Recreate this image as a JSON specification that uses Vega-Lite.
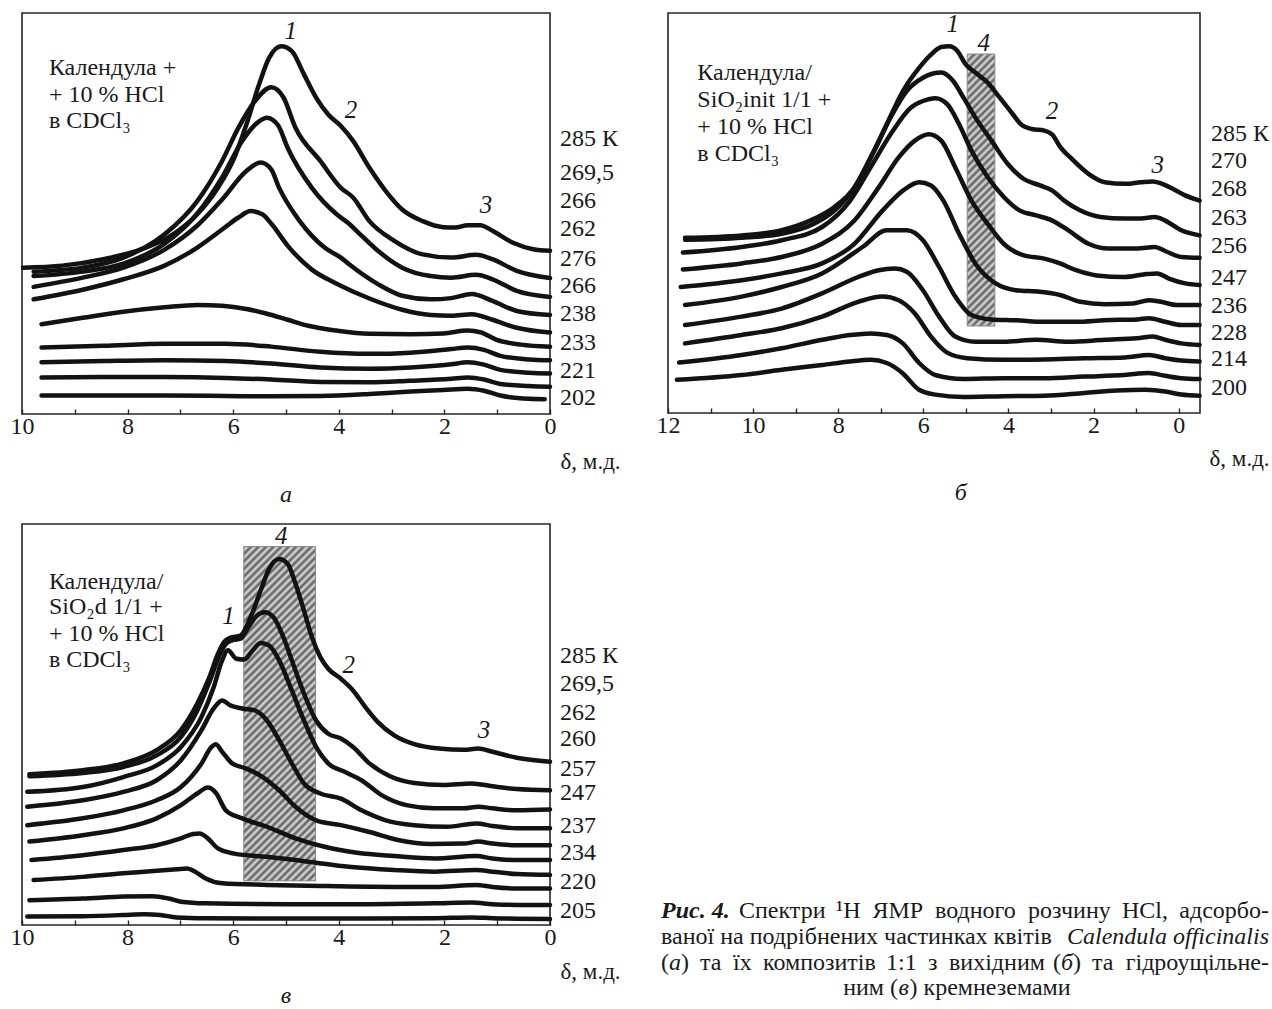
{
"$schema": "https://vega.github.io/schema/vega-lite/v6.json",
"background": "white",
"padding": {"left": 9, "top": 11, "right": 0, "bottom": 0},
"columns": 2,
"spacing": {"row": 110, "column": 118},
"bounds": "flush",
"config": {
  "view": {"stroke": "#262626", "strokeWidth": 1.6},
  "axisX": {"domain": false, "grid": false, "tickSize": -5, "tickColor": "#262626", "tickWidth": 1.4, "labelFont": "Liberation Serif", "labelFontSize": 24, "labelColor": "#1a1a1a", "labelPadding": 5, "labelFlush": false, "labelOverlap": false, "titleFont": "Liberation Serif", "titleFontSize": 23, "titleFontWeight": "normal", "titleColor": "#1a1a1a", "titleAlign": "left", "titleBaseline": "middle"},
  "text": {"font": "Liberation Serif", "color": "#1a1a1a"},
  "line": {"interpolate": "monotone", "strokeWidth": 4.5, "color": "#121212", "strokeCap": "round", "strokeJoin": "round"}
},
"datasets": {
"a": [
{"c":1,"x":9.98,"y":36.5},{"c":1,"x":9.24,"y":37.0},{"c":1,"x":8.46,"y":38.6},{"c":1,"x":7.69,"y":41.3},{"c":1,"x":7.14,"y":44.8},{"c":1,"x":6.68,"y":49.8},{"c":1,"x":6.29,"y":56.4},{"c":1,"x":5.98,"y":63.9},{"c":1,"x":5.75,"y":72.2},{"c":1,"x":5.51,"y":82.2},{"c":1,"x":5.32,"y":88.8},{"c":1,"x":5.09,"y":91.7},{"c":1,"x":4.89,"y":90.5},{"c":1,"x":4.66,"y":84.7},{"c":1,"x":4.43,"y":78.9},{"c":1,"x":4.2,"y":74.7},{"c":1,"x":3.96,"y":71.8},{"c":1,"x":3.73,"y":68.1},{"c":1,"x":3.42,"y":61.4},{"c":1,"x":3.11,"y":55.6},{"c":1,"x":2.8,"y":51.0},{"c":1,"x":2.41,"y":48.1},{"c":1,"x":2.02,"y":46.6},{"c":1,"x":1.79,"y":46.5},{"c":1,"x":1.56,"y":47.1},{"c":1,"x":1.32,"y":47.1},{"c":1,"x":1.09,"y":45.7},{"c":1,"x":0.7,"y":42.7},{"c":1,"x":0.32,"y":41.1},{"c":1,"x":0,"y":40.7},
{"c":2,"x":9.78,"y":35.5},{"c":2,"x":8.85,"y":36.5},{"c":2,"x":8.08,"y":39.0},{"c":2,"x":7.3,"y":44.8},{"c":2,"x":6.68,"y":53.1},{"c":2,"x":6.21,"y":63.1},{"c":2,"x":5.9,"y":71.4},{"c":2,"x":5.59,"y":78.0},{"c":2,"x":5.28,"y":81.5},{"c":2,"x":5.05,"y":79.0},{"c":2,"x":4.82,"y":71.4},{"c":2,"x":4.35,"y":63.1},{"c":2,"x":3.96,"y":56.4},{"c":2,"x":3.73,"y":54.0},{"c":2,"x":3.42,"y":48.1},{"c":2,"x":2.95,"y":43.2},{"c":2,"x":2.41,"y":39.8},{"c":2,"x":1.87,"y":39.0},{"c":2,"x":1.4,"y":39.7},{"c":2,"x":1.09,"y":38.6},{"c":2,"x":0.63,"y":35.7},{"c":2,"x":0,"y":33.9},
{"c":3,"x":9.78,"y":34.4},{"c":3,"x":8.85,"y":35.5},{"c":3,"x":8.08,"y":37.5},{"c":3,"x":7.3,"y":42.5},{"c":3,"x":6.68,"y":50.0},{"c":3,"x":6.21,"y":59.0},{"c":3,"x":5.83,"y":68.1},{"c":3,"x":5.51,"y":73.0},{"c":3,"x":5.36,"y":73.9},{"c":3,"x":5.15,"y":72.0},{"c":3,"x":4.97,"y":66.4},{"c":3,"x":4.51,"y":56.4},{"c":3,"x":4.04,"y":49.8},{"c":3,"x":3.81,"y":47.5},{"c":3,"x":3.65,"y":45.5},{"c":3,"x":3.26,"y":40.7},{"c":3,"x":2.8,"y":36.5},{"c":3,"x":2.26,"y":34.4},{"c":3,"x":1.87,"y":34.0},{"c":3,"x":1.4,"y":34.7},{"c":3,"x":1.09,"y":33.6},{"c":3,"x":0.63,"y":30.7},{"c":3,"x":0,"y":29.2},
{"c":4,"x":9.78,"y":31.7},{"c":4,"x":8.85,"y":34.0},{"c":4,"x":8.08,"y":36.5},{"c":4,"x":7.3,"y":41.0},{"c":4,"x":6.68,"y":47.0},{"c":4,"x":6.21,"y":53.5},{"c":4,"x":5.75,"y":60.6},{"c":4,"x":5.48,"y":62.7},{"c":4,"x":5.28,"y":61.0},{"c":4,"x":5.13,"y":56.4},{"c":4,"x":4.74,"y":48.1},{"c":4,"x":4.27,"y":41.5},{"c":4,"x":3.96,"y":39.0},{"c":4,"x":3.81,"y":37.4},{"c":4,"x":3.26,"y":32.4},{"c":4,"x":2.8,"y":29.5},{"c":4,"x":2.26,"y":28.6},{"c":4,"x":1.87,"y":28.9},{"c":4,"x":1.48,"y":29.9},{"c":4,"x":1.09,"y":28.2},{"c":4,"x":0.63,"y":25.7},{"c":4,"x":0,"y":24.7},
{"c":5,"x":9.78,"y":28.6},{"c":5,"x":8.85,"y":31.0},{"c":5,"x":8.08,"y":33.6},{"c":5,"x":7.3,"y":37.0},{"c":5,"x":6.68,"y":41.5},{"c":5,"x":6.21,"y":46.0},{"c":5,"x":5.9,"y":49.0},{"c":5,"x":5.67,"y":50.6},{"c":5,"x":5.45,"y":49.8},{"c":5,"x":5.28,"y":47.5},{"c":5,"x":4.97,"y":42.0},{"c":5,"x":4.51,"y":36.0},{"c":5,"x":4.04,"y":32.5},{"c":5,"x":3.42,"y":28.8},{"c":5,"x":2.8,"y":26.0},{"c":5,"x":2.26,"y":24.7},{"c":5,"x":1.87,"y":24.5},{"c":5,"x":1.48,"y":24.9},{"c":5,"x":1.09,"y":23.5},{"c":5,"x":0.63,"y":21.5},{"c":5,"x":0,"y":20.3},
{"c":6,"x":9.63,"y":22.4},{"c":6,"x":8.85,"y":24.0},{"c":6,"x":8.08,"y":25.5},{"c":6,"x":7.3,"y":26.6},{"c":6,"x":6.68,"y":27.2},{"c":6,"x":6.21,"y":27.0},{"c":6,"x":5.75,"y":26.2},{"c":6,"x":5.36,"y":25.0},{"c":6,"x":4.97,"y":23.5},{"c":6,"x":4.58,"y":22.0},{"c":6,"x":4.04,"y":20.8},{"c":6,"x":3.42,"y":20.0},{"c":6,"x":2.64,"y":19.9},{"c":6,"x":2.02,"y":20.1},{"c":6,"x":1.56,"y":20.8},{"c":6,"x":1.32,"y":20.4},{"c":6,"x":1.01,"y":18.5},{"c":6,"x":0.55,"y":17.3},{"c":6,"x":0,"y":16.8},
{"c":7,"x":9.63,"y":16.6},{"c":7,"x":8.46,"y":17.0},{"c":7,"x":7.3,"y":17.5},{"c":7,"x":6.14,"y":17.5},{"c":7,"x":5.28,"y":16.8},{"c":7,"x":4.35,"y":15.5},{"c":7,"x":3.42,"y":15.0},{"c":7,"x":2.64,"y":15.3},{"c":7,"x":1.87,"y":16.2},{"c":7,"x":1.56,"y":16.6},{"c":7,"x":1.25,"y":16.0},{"c":7,"x":0.94,"y":14.5},{"c":7,"x":0.4,"y":13.6},{"c":7,"x":0,"y":13.4},
{"c":8,"x":9.63,"y":12.9},{"c":8,"x":8.46,"y":13.2},{"c":8,"x":7.3,"y":13.4},{"c":8,"x":6.14,"y":13.2},{"c":8,"x":5.28,"y":12.6},{"c":8,"x":4.35,"y":11.6},{"c":8,"x":3.42,"y":11.3},{"c":8,"x":2.64,"y":11.6},{"c":8,"x":1.87,"y":12.4},{"c":8,"x":1.56,"y":12.9},{"c":8,"x":1.25,"y":12.3},{"c":8,"x":0.94,"y":11.0},{"c":8,"x":0.4,"y":10.3},{"c":8,"x":0,"y":10.1},
{"c":9,"x":9.63,"y":9.1},{"c":9,"x":8.46,"y":9.2},{"c":9,"x":7.3,"y":9.2},{"c":9,"x":6.14,"y":9.0},{"c":9,"x":5.28,"y":8.6},{"c":9,"x":4.35,"y":8.0},{"c":9,"x":3.42,"y":7.9},{"c":9,"x":2.64,"y":8.3},{"c":9,"x":1.87,"y":8.8},{"c":9,"x":1.56,"y":9.1},{"c":9,"x":1.25,"y":8.6},{"c":9,"x":0.94,"y":7.5},{"c":9,"x":0.4,"y":7.0},{"c":9,"x":0,"y":6.8},
{"c":10,"x":9.63,"y":4.6},{"c":10,"x":8.46,"y":4.6},{"c":10,"x":7.3,"y":4.6},{"c":10,"x":6.14,"y":4.5},{"c":10,"x":5.28,"y":4.4},{"c":10,"x":4.35,"y":4.5},{"c":10,"x":3.42,"y":5.0},{"c":10,"x":2.64,"y":5.6},{"c":10,"x":2.02,"y":6.0},{"c":10,"x":1.56,"y":6.3},{"c":10,"x":1.25,"y":5.8},{"c":10,"x":0.94,"y":4.6},{"c":10,"x":0.4,"y":3.8},{"c":10,"x":0.1,"y":3.7}
],
"b": [
{"c":1,"x":11.6,"y":43.8},{"c":1,"x":10.27,"y":44.4},{"c":1,"x":9.33,"y":45.7},{"c":1,"x":8.66,"y":48.1},{"c":1,"x":8.09,"y":51.5},{"c":1,"x":7.62,"y":56.4},{"c":1,"x":7.24,"y":63.9},{"c":1,"x":6.86,"y":72.2},{"c":1,"x":6.48,"y":80.5},{"c":1,"x":6.1,"y":86.3},{"c":1,"x":5.82,"y":89.6},{"c":1,"x":5.58,"y":91.5},{"c":1,"x":5.39,"y":91.7},{"c":1,"x":5.2,"y":90.5},{"c":1,"x":5.01,"y":87.2},{"c":1,"x":4.78,"y":85.1},{"c":1,"x":4.49,"y":82.6},{"c":1,"x":4.21,"y":78.9},{"c":1,"x":3.92,"y":75.0},{"c":1,"x":3.69,"y":72.0},{"c":1,"x":3.45,"y":71.0},{"c":1,"x":3.16,"y":70.6},{"c":1,"x":2.97,"y":69.6},{"c":1,"x":2.79,"y":66.6},{"c":1,"x":2.5,"y":63.4},{"c":1,"x":2.12,"y":59.8},{"c":1,"x":1.74,"y":57.7},{"c":1,"x":1.27,"y":57.3},{"c":1,"x":0.89,"y":57.7},{"c":1,"x":0.61,"y":57.9},{"c":1,"x":0.42,"y":57.4},{"c":1,"x":0.13,"y":56.0},{"c":1,"x":-0.15,"y":54.4},{"c":1,"x":-0.49,"y":53.1},
{"c":2,"x":11.6,"y":43.3},{"c":2,"x":10.27,"y":43.8},{"c":2,"x":9.33,"y":44.8},{"c":2,"x":8.57,"y":47.3},{"c":2,"x":8.09,"y":50.6},{"c":2,"x":7.62,"y":56.4},{"c":2,"x":7.15,"y":65.6},{"c":2,"x":6.77,"y":73.9},{"c":2,"x":6.39,"y":80.5},{"c":2,"x":6.01,"y":83.8},{"c":2,"x":5.58,"y":85.1},{"c":2,"x":5.3,"y":83.0},{"c":2,"x":5.06,"y":78.9},{"c":2,"x":4.78,"y":73.9},{"c":2,"x":4.4,"y":68.1},{"c":2,"x":4.02,"y":62.3},{"c":2,"x":3.64,"y":58.5},{"c":2,"x":3.26,"y":56.9},{"c":2,"x":2.97,"y":55.6},{"c":2,"x":2.69,"y":53.1},{"c":2,"x":2.31,"y":50.6},{"c":2,"x":1.84,"y":49.0},{"c":2,"x":1.27,"y":48.6},{"c":2,"x":0.89,"y":48.6},{"c":2,"x":0.56,"y":49.0},{"c":2,"x":0.32,"y":48.1},{"c":2,"x":-0.06,"y":45.7},{"c":2,"x":-0.49,"y":44.4},
{"c":3,"x":11.65,"y":40.1},{"c":3,"x":10.27,"y":41.5},{"c":3,"x":9.33,"y":43.2},{"c":3,"x":8.38,"y":46.5},{"c":3,"x":7.72,"y":53.1},{"c":3,"x":7.24,"y":61.4},{"c":3,"x":6.77,"y":69.7},{"c":3,"x":6.29,"y":76.4},{"c":3,"x":6.01,"y":78.0},{"c":3,"x":5.72,"y":78.7},{"c":3,"x":5.44,"y":77.2},{"c":3,"x":5.16,"y":72.2},{"c":3,"x":4.87,"y":65.6},{"c":3,"x":4.49,"y":59.0},{"c":3,"x":4.11,"y":54.0},{"c":3,"x":3.73,"y":50.6},{"c":3,"x":3.35,"y":49.4},{"c":3,"x":2.97,"y":48.1},{"c":3,"x":2.6,"y":45.7},{"c":3,"x":2.12,"y":42.3},{"c":3,"x":1.65,"y":41.1},{"c":3,"x":0.98,"y":41.1},{"c":3,"x":0.56,"y":41.5},{"c":3,"x":0.32,"y":40.5},{"c":3,"x":-0.06,"y":39.0},{"c":3,"x":-0.49,"y":38.8},
{"c":4,"x":11.65,"y":35.9},{"c":4,"x":10.27,"y":37.4},{"c":4,"x":9.33,"y":39.0},{"c":4,"x":8.38,"y":42.3},{"c":4,"x":7.62,"y":48.1},{"c":4,"x":7.05,"y":56.4},{"c":4,"x":6.58,"y":63.9},{"c":4,"x":6.2,"y":68.1},{"c":4,"x":5.87,"y":69.7},{"c":4,"x":5.58,"y":68.1},{"c":4,"x":5.25,"y":61.4},{"c":4,"x":4.87,"y":53.1},{"c":4,"x":4.49,"y":47.3},{"c":4,"x":4.11,"y":42.3},{"c":4,"x":3.64,"y":39.4},{"c":4,"x":3.16,"y":38.6},{"c":4,"x":2.79,"y":37.4},{"c":4,"x":2.41,"y":35.7},{"c":4,"x":1.93,"y":34.4},{"c":4,"x":1.27,"y":34.0},{"c":4,"x":0.79,"y":34.7},{"c":4,"x":0.51,"y":34.9},{"c":4,"x":0.23,"y":33.6},{"c":4,"x":-0.15,"y":32.4},{"c":4,"x":-0.49,"y":32.0},
{"c":5,"x":11.7,"y":31.5},{"c":5,"x":10.27,"y":33.2},{"c":5,"x":9.33,"y":34.9},{"c":5,"x":8.38,"y":37.4},{"c":5,"x":7.62,"y":42.3},{"c":5,"x":6.96,"y":50.6},{"c":5,"x":6.48,"y":55.6},{"c":5,"x":6.1,"y":57.7},{"c":5,"x":5.82,"y":56.9},{"c":5,"x":5.53,"y":53.1},{"c":5,"x":5.16,"y":44.8},{"c":5,"x":4.78,"y":37.4},{"c":5,"x":4.3,"y":32.4},{"c":5,"x":3.83,"y":30.7},{"c":5,"x":3.26,"y":30.3},{"c":5,"x":2.79,"y":29.5},{"c":5,"x":2.31,"y":27.8},{"c":5,"x":1.74,"y":27.2},{"c":5,"x":1.08,"y":27.4},{"c":5,"x":0.7,"y":28.2},{"c":5,"x":0.42,"y":27.8},{"c":5,"x":0.04,"y":27.0},{"c":5,"x":-0.49,"y":27.0},
{"c":6,"x":11.6,"y":27.0},{"c":6,"x":10.27,"y":29.1},{"c":6,"x":9.33,"y":31.5},{"c":6,"x":8.38,"y":34.9},{"c":6,"x":7.43,"y":41.5},{"c":6,"x":6.86,"y":45.7},{"c":6,"x":6.39,"y":45.7},{"c":6,"x":6.01,"y":43.2},{"c":6,"x":5.63,"y":36.5},{"c":6,"x":5.25,"y":29.1},{"c":6,"x":4.87,"y":24.5},{"c":6,"x":4.4,"y":23.4},{"c":6,"x":3.83,"y":23.2},{"c":6,"x":3.16,"y":22.8},{"c":6,"x":2.41,"y":22.8},{"c":6,"x":1.74,"y":23.2},{"c":6,"x":0.98,"y":23.4},{"c":6,"x":0.7,"y":23.7},{"c":6,"x":0.32,"y":22.8},{"c":6,"x":-0.06,"y":22.0},{"c":6,"x":-0.49,"y":22.0},
{"c":7,"x":11.6,"y":22.0},{"c":7,"x":10.27,"y":24.1},{"c":7,"x":9.33,"y":26.1},{"c":7,"x":8.38,"y":29.9},{"c":7,"x":7.53,"y":34.0},{"c":7,"x":7.05,"y":35.7},{"c":7,"x":6.67,"y":36.1},{"c":7,"x":6.39,"y":35.3},{"c":7,"x":6.01,"y":30.7},{"c":7,"x":5.63,"y":24.1},{"c":7,"x":5.25,"y":19.1},{"c":7,"x":4.78,"y":17.8},{"c":7,"x":4.11,"y":17.8},{"c":7,"x":3.35,"y":18.3},{"c":7,"x":2.6,"y":17.8},{"c":7,"x":1.74,"y":18.3},{"c":7,"x":0.98,"y":18.7},{"c":7,"x":0.61,"y":19.1},{"c":7,"x":0.32,"y":18.3},{"c":7,"x":-0.06,"y":17.4},{"c":7,"x":-0.49,"y":17.0},
{"c":8,"x":11.6,"y":17.4},{"c":8,"x":10.27,"y":19.5},{"c":8,"x":9.33,"y":21.2},{"c":8,"x":8.38,"y":24.1},{"c":8,"x":7.53,"y":27.8},{"c":8,"x":6.96,"y":29.1},{"c":8,"x":6.58,"y":28.2},{"c":8,"x":6.2,"y":24.9},{"c":8,"x":5.82,"y":19.1},{"c":8,"x":5.44,"y":15.1},{"c":8,"x":4.97,"y":13.7},{"c":8,"x":4.11,"y":13.3},{"c":8,"x":3.16,"y":13.4},{"c":8,"x":2.22,"y":13.7},{"c":8,"x":1.27,"y":13.9},{"c":8,"x":0.7,"y":14.5},{"c":8,"x":0.32,"y":13.7},{"c":8,"x":-0.06,"y":13.1},{"c":8,"x":-0.49,"y":12.9},
{"c":9,"x":11.74,"y":12.6},{"c":9,"x":10.27,"y":14.5},{"c":9,"x":9.33,"y":16.2},{"c":9,"x":8.38,"y":18.3},{"c":9,"x":7.72,"y":19.5},{"c":9,"x":7.24,"y":19.9},{"c":9,"x":6.86,"y":19.5},{"c":9,"x":6.48,"y":17.4},{"c":9,"x":6.1,"y":12.5},{"c":9,"x":5.72,"y":9.5},{"c":9,"x":5.06,"y":8.5},{"c":9,"x":4.11,"y":8.7},{"c":9,"x":3.16,"y":8.7},{"c":9,"x":2.22,"y":9.1},{"c":9,"x":1.27,"y":9.5},{"c":9,"x":0.7,"y":10.0},{"c":9,"x":0.32,"y":9.3},{"c":9,"x":-0.06,"y":8.7},{"c":9,"x":-0.49,"y":8.5},
{"c":10,"x":11.79,"y":8.3},{"c":10,"x":10.27,"y":9.5},{"c":10,"x":9.33,"y":10.8},{"c":10,"x":8.38,"y":12.0},{"c":10,"x":7.72,"y":12.9},{"c":10,"x":7.24,"y":13.3},{"c":10,"x":6.86,"y":12.5},{"c":10,"x":6.48,"y":9.9},{"c":10,"x":6.1,"y":5.8},{"c":10,"x":5.72,"y":4.6},{"c":10,"x":5.06,"y":4.0},{"c":10,"x":4.11,"y":4.2},{"c":10,"x":3.16,"y":4.3},{"c":10,"x":2.22,"y":5.0},{"c":10,"x":1.46,"y":5.6},{"c":10,"x":0.79,"y":5.8},{"c":10,"x":0.32,"y":5.4},{"c":10,"x":-0.06,"y":4.6},{"c":10,"x":-0.49,"y":4.3}
],
"v": [
{"c":1,"x":9.86,"y":37.6},{"c":1,"x":8.85,"y":38.6},{"c":1,"x":8.08,"y":40.3},{"c":1,"x":7.45,"y":43.6},{"c":1,"x":6.99,"y":48.6},{"c":1,"x":6.68,"y":55.2},{"c":1,"x":6.45,"y":61.8},{"c":1,"x":6.29,"y":67.6},{"c":1,"x":6.17,"y":70.6},{"c":1,"x":6.06,"y":71.6},{"c":1,"x":5.86,"y":72.2},{"c":1,"x":5.67,"y":76.8},{"c":1,"x":5.48,"y":83.4},{"c":1,"x":5.32,"y":88.8},{"c":1,"x":5.13,"y":91.3},{"c":1,"x":4.97,"y":90.1},{"c":1,"x":4.82,"y":85.1},{"c":1,"x":4.66,"y":78.4},{"c":1,"x":4.51,"y":71.8},{"c":1,"x":4.35,"y":66.8},{"c":1,"x":4.2,"y":63.9},{"c":1,"x":3.96,"y":61.4},{"c":1,"x":3.73,"y":58.5},{"c":1,"x":3.5,"y":54.4},{"c":1,"x":3.26,"y":50.6},{"c":1,"x":2.95,"y":47.3},{"c":1,"x":2.57,"y":45.1},{"c":1,"x":2.1,"y":44.0},{"c":1,"x":1.63,"y":43.7},{"c":1,"x":1.36,"y":44.0},{"c":1,"x":1.09,"y":43.2},{"c":1,"x":0.63,"y":41.7},{"c":1,"x":0,"y":40.7},
{"c":2,"x":9.86,"y":37.1},{"c":2,"x":8.85,"y":37.9},{"c":2,"x":8.08,"y":39.4},{"c":2,"x":7.45,"y":42.3},{"c":2,"x":6.99,"y":46.9},{"c":2,"x":6.68,"y":53.5},{"c":2,"x":6.45,"y":60.6},{"c":2,"x":6.25,"y":67.6},{"c":2,"x":6.14,"y":70.1},{"c":2,"x":6.02,"y":71.0},{"c":2,"x":5.86,"y":71.4},{"c":2,"x":5.71,"y":74.3},{"c":2,"x":5.55,"y":77.2},{"c":2,"x":5.4,"y":78.0},{"c":2,"x":5.24,"y":76.8},{"c":2,"x":5.05,"y":71.8},{"c":2,"x":4.89,"y":66.0},{"c":2,"x":4.66,"y":57.7},{"c":2,"x":4.43,"y":51.0},{"c":2,"x":4.2,"y":47.7},{"c":2,"x":3.96,"y":46.5},{"c":2,"x":3.73,"y":44.4},{"c":2,"x":3.42,"y":40.3},{"c":2,"x":3.03,"y":37.1},{"c":2,"x":2.57,"y":35.4},{"c":2,"x":2.02,"y":34.9},{"c":2,"x":1.48,"y":35.3},{"c":2,"x":1.09,"y":34.6},{"c":2,"x":0.63,"y":33.9},{"c":2,"x":0,"y":33.6},
{"c":3,"x":9.9,"y":33.2},{"c":3,"x":8.85,"y":34.4},{"c":3,"x":8.08,"y":36.9},{"c":3,"x":7.45,"y":39.8},{"c":3,"x":6.99,"y":44.4},{"c":3,"x":6.6,"y":51.9},{"c":3,"x":6.37,"y":59.3},{"c":3,"x":6.21,"y":66.0},{"c":3,"x":6.1,"y":68.5},{"c":3,"x":5.94,"y":66.4},{"c":3,"x":5.79,"y":66.2},{"c":3,"x":5.63,"y":68.5},{"c":3,"x":5.48,"y":70.3},{"c":3,"x":5.32,"y":69.7},{"c":3,"x":5.13,"y":66.0},{"c":3,"x":4.89,"y":58.5},{"c":3,"x":4.66,"y":51.0},{"c":3,"x":4.43,"y":44.4},{"c":3,"x":4.2,"y":40.3},{"c":3,"x":3.89,"y":38.2},{"c":3,"x":3.57,"y":36.1},{"c":3,"x":3.19,"y":32.4},{"c":3,"x":2.72,"y":29.9},{"c":3,"x":2.18,"y":29.1},{"c":3,"x":1.63,"y":29.1},{"c":3,"x":1.36,"y":29.5},{"c":3,"x":1.09,"y":29.1},{"c":3,"x":0.63,"y":28.6},{"c":3,"x":0,"y":28.8},
{"c":4,"x":9.9,"y":29.5},{"c":4,"x":8.85,"y":31.1},{"c":4,"x":8.08,"y":33.2},{"c":4,"x":7.45,"y":36.1},{"c":4,"x":6.99,"y":41.1},{"c":4,"x":6.6,"y":48.6},{"c":4,"x":6.37,"y":54.0},{"c":4,"x":6.21,"y":56.0},{"c":4,"x":6.06,"y":54.8},{"c":4,"x":5.83,"y":54.0},{"c":4,"x":5.59,"y":53.5},{"c":4,"x":5.36,"y":51.0},{"c":4,"x":5.13,"y":46.1},{"c":4,"x":4.89,"y":40.3},{"c":4,"x":4.66,"y":35.3},{"c":4,"x":4.35,"y":32.8},{"c":4,"x":3.96,"y":31.5},{"c":4,"x":3.57,"y":28.6},{"c":4,"x":3.11,"y":26.1},{"c":4,"x":2.57,"y":24.9},{"c":4,"x":1.95,"y":24.5},{"c":4,"x":1.4,"y":25.3},{"c":4,"x":1.09,"y":24.7},{"c":4,"x":0.63,"y":24.1},{"c":4,"x":0,"y":24.1},
{"c":5,"x":9.9,"y":24.9},{"c":5,"x":8.85,"y":26.6},{"c":5,"x":8.08,"y":28.6},{"c":5,"x":7.45,"y":31.1},{"c":5,"x":6.99,"y":34.4},{"c":5,"x":6.6,"y":40.3},{"c":5,"x":6.41,"y":44.4},{"c":5,"x":6.33,"y":45.1},{"c":5,"x":6.21,"y":43.2},{"c":5,"x":6.02,"y":40.3},{"c":5,"x":5.75,"y":39.0},{"c":5,"x":5.44,"y":36.9},{"c":5,"x":5.13,"y":33.6},{"c":5,"x":4.82,"y":29.5},{"c":5,"x":4.43,"y":26.1},{"c":5,"x":3.96,"y":24.9},{"c":5,"x":3.42,"y":23.2},{"c":5,"x":2.88,"y":21.2},{"c":5,"x":2.26,"y":20.2},{"c":5,"x":1.63,"y":20.3},{"c":5,"x":1.36,"y":20.8},{"c":5,"x":1.09,"y":20.3},{"c":5,"x":0.63,"y":19.9},{"c":5,"x":0,"y":19.9},
{"c":6,"x":9.86,"y":20.8},{"c":6,"x":8.85,"y":22.4},{"c":6,"x":8.08,"y":24.1},{"c":6,"x":7.45,"y":26.6},{"c":6,"x":6.99,"y":29.9},{"c":6,"x":6.68,"y":32.8},{"c":6,"x":6.48,"y":34.3},{"c":6,"x":6.33,"y":33.0},{"c":6,"x":6.14,"y":28.6},{"c":6,"x":5.83,"y":26.6},{"c":6,"x":5.36,"y":24.5},{"c":6,"x":4.82,"y":21.6},{"c":6,"x":4.27,"y":19.5},{"c":6,"x":3.65,"y":18.0},{"c":6,"x":2.95,"y":17.2},{"c":6,"x":2.18,"y":16.6},{"c":6,"x":1.4,"y":17.2},{"c":6,"x":1.09,"y":16.6},{"c":6,"x":0.63,"y":16.2},{"c":6,"x":0,"y":16.2},
{"c":7,"x":9.82,"y":16.2},{"c":7,"x":8.85,"y":17.4},{"c":7,"x":8.08,"y":18.7},{"c":7,"x":7.45,"y":19.9},{"c":7,"x":6.99,"y":21.6},{"c":7,"x":6.76,"y":22.7},{"c":7,"x":6.64,"y":22.8},{"c":7,"x":6.48,"y":21.6},{"c":7,"x":6.29,"y":19.1},{"c":7,"x":5.98,"y":17.8},{"c":7,"x":5.36,"y":17.0},{"c":7,"x":4.58,"y":15.8},{"c":7,"x":3.81,"y":14.5},{"c":7,"x":2.95,"y":13.7},{"c":7,"x":2.18,"y":13.3},{"c":7,"x":1.4,"y":13.7},{"c":7,"x":1.09,"y":13.3},{"c":7,"x":0.63,"y":12.7},{"c":7,"x":0,"y":12.5},
{"c":8,"x":9.78,"y":11.2},{"c":8,"x":8.85,"y":12.0},{"c":8,"x":8.08,"y":12.9},{"c":8,"x":7.45,"y":13.5},{"c":8,"x":7.07,"y":13.9},{"c":8,"x":6.87,"y":14.1},{"c":8,"x":6.72,"y":13.3},{"c":8,"x":6.52,"y":11.6},{"c":8,"x":6.21,"y":10.4},{"c":8,"x":5.36,"y":10.0},{"c":8,"x":4.2,"y":9.7},{"c":8,"x":2.95,"y":9.5},{"c":8,"x":2.18,"y":9.5},{"c":8,"x":1.4,"y":10.0},{"c":8,"x":1.09,"y":9.5},{"c":8,"x":0.63,"y":9.1},{"c":8,"x":0,"y":9.1},
{"c":9,"x":9.86,"y":6.2},{"c":9,"x":8.85,"y":6.6},{"c":9,"x":8.08,"y":7.1},{"c":9,"x":7.53,"y":7.2},{"c":9,"x":7.22,"y":6.6},{"c":9,"x":6.99,"y":5.8},{"c":9,"x":6.52,"y":5.4},{"c":9,"x":4.97,"y":5.2},{"c":9,"x":3.42,"y":5.2},{"c":9,"x":2.18,"y":5.4},{"c":9,"x":1.48,"y":5.6},{"c":9,"x":1.09,"y":5.2},{"c":9,"x":0.63,"y":5.0},{"c":9,"x":0,"y":5.0},
{"c":10,"x":9.9,"y":2.1},{"c":10,"x":8.85,"y":2.2},{"c":10,"x":8.08,"y":2.5},{"c":10,"x":7.69,"y":2.7},{"c":10,"x":7.38,"y":2.5},{"c":10,"x":7.07,"y":1.9},{"c":10,"x":6.52,"y":1.7},{"c":10,"x":4.97,"y":1.6},{"c":10,"x":3.42,"y":1.6},{"c":10,"x":2.18,"y":1.7},{"c":10,"x":1.48,"y":1.9},{"c":10,"x":1.09,"y":1.7},{"c":10,"x":0,"y":1.5}
]
},
"concat": [
{
  "width": 528, "height": 401,
  "encoding": {
    "x": {"field": "x", "type": "quantitative", "title": "δ, м.д.", "scale": {"domain": [0, 10], "reverse": true, "nice": false, "zero": false},
          "axis": {"values": [0,1,2,3,4,5,6,7,8,9,10], "labelExpr": "datum.value % 2 === 0 ? datum.label : ''", "titleX": 538, "titleY": 47}},
    "y": {"field": "y", "type": "quantitative", "scale": {"domain": [0, 100], "nice": false, "zero": false}, "axis": null}
  },
  "layer": [
    {"data": {"name": "a"}, "mark": {"type": "line"}, "encoding": {"detail": {"field": "c"}}},
    {"data": {"values": [{"x":0,"y":68.6,"t":"285 К"},{"x":0,"y":60.1,"t":"269,5"},{"x":0,"y":53.1,"t":"266"},{"x":0,"y":46.1,"t":"262"},{"x":0,"y":38.7,"t":"276"},{"x":0,"y":31.9,"t":"266"},{"x":0,"y":24.9,"t":"238"},{"x":0,"y":17.7,"t":"233"},{"x":0,"y":10.7,"t":"221"},{"x":0,"y":4.0,"t":"202"}]},
     "mark": {"type": "text", "align": "left", "baseline": "middle", "dx": 10, "fontSize": 24}, "encoding": {"text": {"field": "t"}}},
    {"data": {"values": [{"x":4.91,"y":95.5,"t":"1"},{"x":3.77,"y":75.9,"t":"2"},{"x":1.21,"y":52.2,"t":"3"}]},
     "mark": {"type": "text", "align": "center", "baseline": "middle", "fontSize": 25, "fontStyle": "italic"}, "encoding": {"text": {"field": "t"}}},
    {"data": {"values": [{"x":9.49,"y":86.2,"t":"Календула +"},{"x":9.49,"y":79.6,"t":"+ 10 % HCl"},{"x":9.49,"y":73.1,"t":"в CDCl₃"}]},
     "mark": {"type": "text", "align": "left", "baseline": "middle", "fontSize": 24}, "encoding": {"text": {"field": "t"}}},
    {"data": {"values": [{"x":5.0,"y":-20.2,"t":"а"}]},
     "mark": {"type": "text", "align": "center", "baseline": "middle", "fontSize": 24, "fontStyle": "italic"}, "encoding": {"text": {"field": "t"}}}
  ]
},
{
  "width": 532, "height": 400,
  "encoding": {
    "x": {"field": "x", "type": "quantitative", "title": "δ, м.д.", "scale": {"domain": [-0.5, 12], "reverse": true, "nice": false, "zero": false},
          "axis": {"values": [0,1,2,3,4,5,6,7,8,9,10,11,12], "labelExpr": "datum.value % 2 === 0 ? datum.label : ''", "titleX": 541, "titleY": 45}},
    "y": {"field": "y", "type": "quantitative", "scale": {"domain": [0, 100], "nice": false, "zero": false}, "axis": null}
  },
  "layer": [
    {"data": {"values": [{"x":4.97,"x2":4.32,"y":89.75,"y2":21.75}]}, "mark": {"type": "rect", "stroke": "#8a8a8a", "strokeWidth": 1,
      "fill": {"gradient": "linear", "x1": 0, "y1": 0, "x2": 0.111, "y2": 1.0905, "stops": [
{"offset":0,"color":"#5a5a5a"},{"offset":0.0125,"color":"#dedede"},{"offset":0.025,"color":"#5a5a5a"},{"offset":0.0375,"color":"#dedede"},{"offset":0.05,"color":"#5a5a5a"},{"offset":0.0625,"color":"#dedede"},{"offset":0.075,"color":"#5a5a5a"},{"offset":0.0875,"color":"#dedede"},{"offset":0.1,"color":"#5a5a5a"},{"offset":0.1125,"color":"#dedede"},{"offset":0.125,"color":"#5a5a5a"},{"offset":0.1375,"color":"#dedede"},{"offset":0.15,"color":"#5a5a5a"},{"offset":0.1625,"color":"#dedede"},{"offset":0.175,"color":"#5a5a5a"},{"offset":0.1875,"color":"#dedede"},{"offset":0.2,"color":"#5a5a5a"},{"offset":0.2125,"color":"#dedede"},{"offset":0.225,"color":"#5a5a5a"},{"offset":0.2375,"color":"#dedede"},{"offset":0.25,"color":"#5a5a5a"},{"offset":0.2625,"color":"#dedede"},{"offset":0.275,"color":"#5a5a5a"},{"offset":0.2875,"color":"#dedede"},{"offset":0.3,"color":"#5a5a5a"},{"offset":0.3125,"color":"#dedede"},{"offset":0.325,"color":"#5a5a5a"},{"offset":0.3375,"color":"#dedede"},{"offset":0.35,"color":"#5a5a5a"},{"offset":0.3625,"color":"#dedede"},{"offset":0.375,"color":"#5a5a5a"},{"offset":0.3875,"color":"#dedede"},{"offset":0.4,"color":"#5a5a5a"},{"offset":0.4125,"color":"#dedede"},{"offset":0.425,"color":"#5a5a5a"},{"offset":0.4375,"color":"#dedede"},{"offset":0.45,"color":"#5a5a5a"},{"offset":0.4625,"color":"#dedede"},{"offset":0.475,"color":"#5a5a5a"},{"offset":0.4875,"color":"#dedede"},{"offset":0.5,"color":"#5a5a5a"},{"offset":0.5125,"color":"#dedede"},{"offset":0.525,"color":"#5a5a5a"},{"offset":0.5375,"color":"#dedede"},{"offset":0.55,"color":"#5a5a5a"},{"offset":0.5625,"color":"#dedede"},{"offset":0.575,"color":"#5a5a5a"},{"offset":0.5875,"color":"#dedede"},{"offset":0.6,"color":"#5a5a5a"},{"offset":0.6125,"color":"#dedede"},{"offset":0.625,"color":"#5a5a5a"},{"offset":0.6375,"color":"#dedede"},{"offset":0.65,"color":"#5a5a5a"},{"offset":0.6625,"color":"#dedede"},{"offset":0.675,"color":"#5a5a5a"},{"offset":0.6875,"color":"#dedede"},{"offset":0.7,"color":"#5a5a5a"},{"offset":0.7125,"color":"#dedede"},{"offset":0.725,"color":"#5a5a5a"},{"offset":0.7375,"color":"#dedede"},{"offset":0.75,"color":"#5a5a5a"},{"offset":0.7625,"color":"#dedede"},{"offset":0.775,"color":"#5a5a5a"},{"offset":0.7875,"color":"#dedede"},{"offset":0.8,"color":"#5a5a5a"},{"offset":0.8125,"color":"#dedede"},{"offset":0.825,"color":"#5a5a5a"},{"offset":0.8375,"color":"#dedede"},{"offset":0.85,"color":"#5a5a5a"},{"offset":0.8625,"color":"#dedede"},{"offset":0.875,"color":"#5a5a5a"},{"offset":0.8875,"color":"#dedede"},{"offset":0.9,"color":"#5a5a5a"},{"offset":0.9125,"color":"#dedede"},{"offset":0.925,"color":"#5a5a5a"},{"offset":0.9375,"color":"#dedede"},{"offset":0.95,"color":"#5a5a5a"},{"offset":0.9625,"color":"#dedede"},{"offset":0.975,"color":"#5a5a5a"},{"offset":0.9875,"color":"#dedede"},{"offset":1,"color":"#5a5a5a"}
      ]}},
     "encoding": {"x2": {"field": "x2"}, "y2": {"field": "y2"}}},
    {"data": {"name": "b"}, "mark": {"type": "line"}, "encoding": {"detail": {"field": "c"}}},
    {"data": {"values": [{"x":-0.5,"y":69.75,"t":"285 К"},{"x":-0.5,"y":63.0,"t":"270"},{"x":-0.5,"y":56.0,"t":"268"},{"x":-0.5,"y":48.75,"t":"263"},{"x":-0.5,"y":41.75,"t":"256"},{"x":-0.5,"y":33.75,"t":"247"},{"x":-0.5,"y":26.75,"t":"236"},{"x":-0.5,"y":20.0,"t":"228"},{"x":-0.5,"y":13.5,"t":"214"},{"x":-0.5,"y":6.25,"t":"200"}]},
     "mark": {"type": "text", "align": "left", "baseline": "middle", "dx": 11, "fontSize": 24}, "encoding": {"text": {"field": "t"}}},
    {"data": {"values": [{"x":5.31,"y":97.2,"t":"1"},{"x":4.58,"y":92.5,"t":"4"},{"x":2.98,"y":75.5,"t":"2"},{"x":0.49,"y":62.1,"t":"3"}]},
     "mark": {"type": "text", "align": "center", "baseline": "middle", "fontSize": 25, "fontStyle": "italic"}, "encoding": {"text": {"field": "t"}}},
    {"data": {"values": [{"x":11.31,"y":85.0,"t":"Календула/"},{"x":11.31,"y":78.25,"t":"SiO₂init 1/1 +"},{"x":11.31,"y":71.5,"t":"+ 10 % HCl"},{"x":11.31,"y":64.75,"t":"в CDCl₃"}]},
     "mark": {"type": "text", "align": "left", "baseline": "middle", "fontSize": 24}, "encoding": {"text": {"field": "t"}}},
    {"data": {"values": [{"x":5.12,"y":-20.0,"t":"б"}]},
     "mark": {"type": "text", "align": "center", "baseline": "middle", "fontSize": 24, "fontStyle": "italic"}, "encoding": {"text": {"field": "t"}}}
  ]
},
{
  "width": 528, "height": 401,
  "encoding": {
    "x": {"field": "x", "type": "quantitative", "title": "δ, м.д.", "scale": {"domain": [0, 10], "reverse": true, "nice": false, "zero": false},
          "axis": {"values": [0,1,2,3,4,5,6,7,8,9,10], "labelExpr": "datum.value % 2 === 0 ? datum.label : ''", "titleX": 538, "titleY": 46}},
    "y": {"field": "y", "type": "quantitative", "scale": {"domain": [0, 100], "nice": false, "zero": false}, "axis": null}
  },
  "layer": [
    {"data": {"values": [{"x":5.8,"x2":4.44,"y":94.4,"y2":11.0}]}, "mark": {"type": "rect", "stroke": "#8a8a8a", "strokeWidth": 1,
      "fill": {"gradient": "linear", "x1": 0, "y1": 0, "x2": 0.2493, "y2": 1.1612, "stops": [
{"offset":0,"color":"#5a5a5a"},{"offset":0.00926,"color":"#dedede"},{"offset":0.01852,"color":"#5a5a5a"},{"offset":0.02778,"color":"#dedede"},{"offset":0.03704,"color":"#5a5a5a"},{"offset":0.0463,"color":"#dedede"},{"offset":0.05556,"color":"#5a5a5a"},{"offset":0.06481,"color":"#dedede"},{"offset":0.07407,"color":"#5a5a5a"},{"offset":0.08333,"color":"#dedede"},{"offset":0.09259,"color":"#5a5a5a"},{"offset":0.10185,"color":"#dedede"},{"offset":0.11111,"color":"#5a5a5a"},{"offset":0.12037,"color":"#dedede"},{"offset":0.12963,"color":"#5a5a5a"},{"offset":0.13889,"color":"#dedede"},{"offset":0.14815,"color":"#5a5a5a"},{"offset":0.15741,"color":"#dedede"},{"offset":0.16667,"color":"#5a5a5a"},{"offset":0.17593,"color":"#dedede"},{"offset":0.18519,"color":"#5a5a5a"},{"offset":0.19444,"color":"#dedede"},{"offset":0.2037,"color":"#5a5a5a"},{"offset":0.21296,"color":"#dedede"},{"offset":0.22222,"color":"#5a5a5a"},{"offset":0.23148,"color":"#dedede"},{"offset":0.24074,"color":"#5a5a5a"},{"offset":0.25,"color":"#dedede"},{"offset":0.25926,"color":"#5a5a5a"},{"offset":0.26852,"color":"#dedede"},{"offset":0.27778,"color":"#5a5a5a"},{"offset":0.28704,"color":"#dedede"},{"offset":0.2963,"color":"#5a5a5a"},{"offset":0.30556,"color":"#dedede"},{"offset":0.31481,"color":"#5a5a5a"},{"offset":0.32407,"color":"#dedede"},{"offset":0.33333,"color":"#5a5a5a"},{"offset":0.34259,"color":"#dedede"},{"offset":0.35185,"color":"#5a5a5a"},{"offset":0.36111,"color":"#dedede"},{"offset":0.37037,"color":"#5a5a5a"},{"offset":0.37963,"color":"#dedede"},{"offset":0.38889,"color":"#5a5a5a"},{"offset":0.39815,"color":"#dedede"},{"offset":0.40741,"color":"#5a5a5a"},{"offset":0.41667,"color":"#dedede"},{"offset":0.42593,"color":"#5a5a5a"},{"offset":0.43519,"color":"#dedede"},{"offset":0.44444,"color":"#5a5a5a"},{"offset":0.4537,"color":"#dedede"},{"offset":0.46296,"color":"#5a5a5a"},{"offset":0.47222,"color":"#dedede"},{"offset":0.48148,"color":"#5a5a5a"},{"offset":0.49074,"color":"#dedede"},{"offset":0.5,"color":"#5a5a5a"},{"offset":0.50926,"color":"#dedede"},{"offset":0.51852,"color":"#5a5a5a"},{"offset":0.52778,"color":"#dedede"},{"offset":0.53704,"color":"#5a5a5a"},{"offset":0.5463,"color":"#dedede"},{"offset":0.55556,"color":"#5a5a5a"},{"offset":0.56481,"color":"#dedede"},{"offset":0.57407,"color":"#5a5a5a"},{"offset":0.58333,"color":"#dedede"},{"offset":0.59259,"color":"#5a5a5a"},{"offset":0.60185,"color":"#dedede"},{"offset":0.61111,"color":"#5a5a5a"},{"offset":0.62037,"color":"#dedede"},{"offset":0.62963,"color":"#5a5a5a"},{"offset":0.63889,"color":"#dedede"},{"offset":0.64815,"color":"#5a5a5a"},{"offset":0.65741,"color":"#dedede"},{"offset":0.66667,"color":"#5a5a5a"},{"offset":0.67593,"color":"#dedede"},{"offset":0.68519,"color":"#5a5a5a"},{"offset":0.69444,"color":"#dedede"},{"offset":0.7037,"color":"#5a5a5a"},{"offset":0.71296,"color":"#dedede"},{"offset":0.72222,"color":"#5a5a5a"},{"offset":0.73148,"color":"#dedede"},{"offset":0.74074,"color":"#5a5a5a"},{"offset":0.75,"color":"#dedede"},{"offset":0.75926,"color":"#5a5a5a"},{"offset":0.76852,"color":"#dedede"},{"offset":0.77778,"color":"#5a5a5a"},{"offset":0.78704,"color":"#dedede"},{"offset":0.7963,"color":"#5a5a5a"},{"offset":0.80556,"color":"#dedede"},{"offset":0.81481,"color":"#5a5a5a"},{"offset":0.82407,"color":"#dedede"},{"offset":0.83333,"color":"#5a5a5a"},{"offset":0.84259,"color":"#dedede"},{"offset":0.85185,"color":"#5a5a5a"},{"offset":0.86111,"color":"#dedede"},{"offset":0.87037,"color":"#5a5a5a"},{"offset":0.87963,"color":"#dedede"},{"offset":0.88889,"color":"#5a5a5a"},{"offset":0.89815,"color":"#dedede"},{"offset":0.90741,"color":"#5a5a5a"},{"offset":0.91667,"color":"#dedede"},{"offset":0.92593,"color":"#5a5a5a"},{"offset":0.93519,"color":"#dedede"},{"offset":0.94444,"color":"#5a5a5a"},{"offset":0.9537,"color":"#dedede"},{"offset":0.96296,"color":"#5a5a5a"},{"offset":0.97222,"color":"#dedede"},{"offset":0.98148,"color":"#5a5a5a"},{"offset":0.99074,"color":"#dedede"},{"offset":1,"color":"#5a5a5a"}
      ]}},
     "encoding": {"x2": {"field": "x2"}, "y2": {"field": "y2"}}},
    {"data": {"name": "v"}, "mark": {"type": "line"}, "encoding": {"detail": {"field": "c"}}},
    {"data": {"values": [{"x":0,"y":67.1,"t":"285 К"},{"x":0,"y":60.1,"t":"269,5"},{"x":0,"y":52.9,"t":"262"},{"x":0,"y":46.4,"t":"260"},{"x":0,"y":38.9,"t":"257"},{"x":0,"y":32.9,"t":"247"},{"x":0,"y":24.7,"t":"237"},{"x":0,"y":18.0,"t":"234"},{"x":0,"y":10.7,"t":"220"},{"x":0,"y":3.5,"t":"205"}]},
     "mark": {"type": "text", "align": "left", "baseline": "middle", "dx": 10, "fontSize": 24}, "encoding": {"text": {"field": "t"}}},
    {"data": {"values": [{"x":5.09,"y":97.1,"t":"4"},{"x":6.09,"y":77.1,"t":"1"},{"x":3.81,"y":64.9,"t":"2"},{"x":1.25,"y":48.7,"t":"3"}]},
     "mark": {"type": "text", "align": "center", "baseline": "middle", "fontSize": 25, "fontStyle": "italic"}, "encoding": {"text": {"field": "t"}}},
    {"data": {"values": [{"x":9.49,"y":85.5,"t":"Календула/"},{"x":9.49,"y":79.3,"t":"SiO₂d 1/1 +"},{"x":9.49,"y":72.6,"t":"+ 10 % HCl"},{"x":9.49,"y":66.1,"t":"в CDCl₃"}]},
     "mark": {"type": "text", "align": "left", "baseline": "middle", "fontSize": 24}, "encoding": {"text": {"field": "t"}}},
    {"data": {"values": [{"x":5.0,"y":-17.6,"t":"в"}]},
     "mark": {"type": "text", "align": "center", "baseline": "middle", "fontSize": 24, "fontStyle": "italic"}, "encoding": {"text": {"field": "t"}}}
  ]
},
{
  "width": 532, "height": 401,
  "view": {"stroke": null},
  "data": {"values": [
    {"k":"bl","x":-7,"y":387,"t":"Рис. 4."},
    {"k":"nl","x":71,"y":387,"t":"Спектри"},
    {"k":"nl","x":168,"y":387,"t":"¹H"},
    {"k":"nl","x":204.5,"y":387,"t":"ЯМР"},
    {"k":"nl","x":267,"y":387,"t":"водного"},
    {"k":"nl","x":360,"y":387,"t":"розчину"},
    {"k":"nl","x":454,"y":387,"t":"HCl,"},
    {"k":"nr","x":601,"y":387,"t":"адсорбо-"},
    {"k":"nl","x":-7,"y":413,"t":"ваної на подрібнених частинках квітів"},
    {"k":"ir","x":601,"y":413,"t":"Calendula officinalis"},
    {"k":"nl","x":-7,"y":439,"t":"("},
    {"k":"il","x":1,"y":439,"t":"а"},
    {"k":"nl","x":13,"y":439,"t":")"},
    {"k":"nl","x":32,"y":439,"t":"та"},
    {"k":"nl","x":65,"y":439,"t":"їх"},
    {"k":"nl","x":95,"y":439,"t":"композитів"},
    {"k":"nl","x":218,"y":439,"t":"1:1"},
    {"k":"nl","x":260,"y":439,"t":"з"},
    {"k":"nl","x":281,"y":439,"t":"вихідним"},
    {"k":"nl","x":385,"y":439,"t":"("},
    {"k":"il","x":393,"y":439,"t":"б"},
    {"k":"nl","x":405,"y":439,"t":")"},
    {"k":"nl","x":424,"y":439,"t":"та"},
    {"k":"nr","x":601,"y":439,"t":"гідроущільне-"},
    {"k":"nr","x":230,"y":464,"t":"ним ("},
    {"k":"il","x":230.5,"y":464,"t":"в"},
    {"k":"nl","x":241.5,"y":464,"t":") кремнеземами"}
  ]},
  "encoding": {
    "x": {"field": "x", "type": "quantitative", "scale": {"domain": [0, 532], "nice": false, "zero": false}, "axis": null},
    "y": {"field": "y", "type": "quantitative", "scale": {"domain": [0, 401], "reverse": true, "nice": false, "zero": false}, "axis": null},
    "text": {"field": "t"}
  },
  "layer": [
    {"transform": [{"filter": "datum.k === 'nl'"}], "mark": {"type": "text", "align": "left", "baseline": "middle", "fontSize": 24}},
    {"transform": [{"filter": "datum.k === 'nr'"}], "mark": {"type": "text", "align": "right", "baseline": "middle", "fontSize": 24}},
    {"transform": [{"filter": "datum.k === 'il'"}], "mark": {"type": "text", "align": "left", "baseline": "middle", "fontSize": 24, "fontStyle": "italic"}},
    {"transform": [{"filter": "datum.k === 'ir'"}], "mark": {"type": "text", "align": "right", "baseline": "middle", "fontSize": 24, "fontStyle": "italic"}},
    {"transform": [{"filter": "datum.k === 'bl'"}], "mark": {"type": "text", "align": "left", "baseline": "middle", "fontSize": 24, "fontStyle": "italic", "fontWeight": "bold"}}
  ]
}
]
}
